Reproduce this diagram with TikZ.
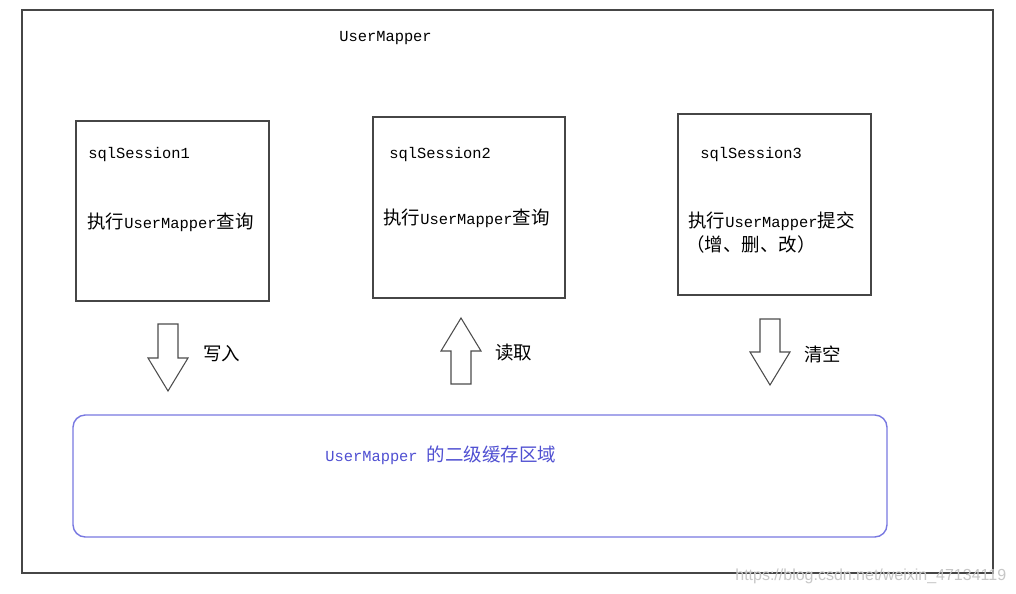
\documentclass[tikz,border=0pt]{standalone}
\usepackage{fontspec}
\setmainfont{Liberation Mono}
\newfontfamily\cjk[Scale=1.2]{Noto Sans CJK SC}
\newfontfamily\urlfont{Liberation Sans}
\newcommand{\zh}[1]{{\cjk #1}}
\definecolor{framegray}{RGB}{70,70,70}
\definecolor{cacheline}{RGB}{120,120,225}
\definecolor{cachetext}{RGB}{80,80,210}

\begin{document}
\begin{tikzpicture}[x=0.02cm, y=-0.02cm,
    frame/.style={draw=framegray, line width=0.8pt},
    arrowline/.style={draw=black!70, line width=0.6pt, line join=miter},
    label/.style={anchor=west, inner sep=0pt, font=\fontsize{8.76pt}{10pt}\selectfont}]
    % Canvas
    \useasboundingbox (0,0) rectangle (1016,594);
    \fill[white] (0,0) rectangle (1016,594);
    %%%
    %%% Outer frame
    %%%
    \draw[frame] (22,10) rectangle (993,573);
    \node[label] (mapper) at (339,38) {UserMapper};
    %%%
    %%% Sessions
    %%%
    \draw[frame] (76,121) rectangle (269,301);
    \draw[frame] (373,117) rectangle (565,298);
    \draw[frame] (678,114) rectangle (871,295);
    \node[label] (session1) at (88,155) {sqlSession1};
    \node[label] (query1) at (87,222) {\zh{执行}UserMapper\zh{查询}};
    \node[label] (session2) at (389,155) {sqlSession2};
    \node[label] (query2) at (383,218) {\zh{执行}UserMapper\zh{查询}};
    \node[label] (session3) at (700,155) {sqlSession3};
    \node[label] (commit3) at (688,221) {\zh{执行}UserMapper\zh{提交}};
    \node[label] (ops3) at (686,244) {\zh{（增、删、改）}};
    %%%
    %%% Block arrows: x / start / neck / tip
    %%%
    \foreach \x/\start/\neck/\tip in {168/324/358/391, 461/384/351/318, 770/319/352/385}
    {
        \draw[arrowline] (\x-10,\start) -- (\x+10,\start) -- (\x+10,\neck) -- (\x+20,\neck)
            -- (\x,\tip) -- (\x-20,\neck) -- (\x-10,\neck) -- cycle;
    }
    \node[label] (write) at (203,354) {\zh{写入}};
    \node[label] (read) at (495,353) {\zh{读取}};
    \node[label] (clear) at (804,354) {\zh{清空}};
    %%%
    %%% Second level cache
    %%%
    \draw[draw=cacheline, line width=0.8pt, rounded corners=7pt] (73,415) rectangle (887,537);
    \node[label, text=cachetext] (cache) at (325,455) {UserMapper \zh{的二级缓存区域}};
    % Watermark
    \node[anchor=west, inner sep=0pt, text=black!22, font=\urlfont\fontsize{9.1pt}{10pt}\selectfont]
        (url) at (735,576) {https://blog.csdn.net/weixin\_47134119};
\end{tikzpicture}
\end{document}
